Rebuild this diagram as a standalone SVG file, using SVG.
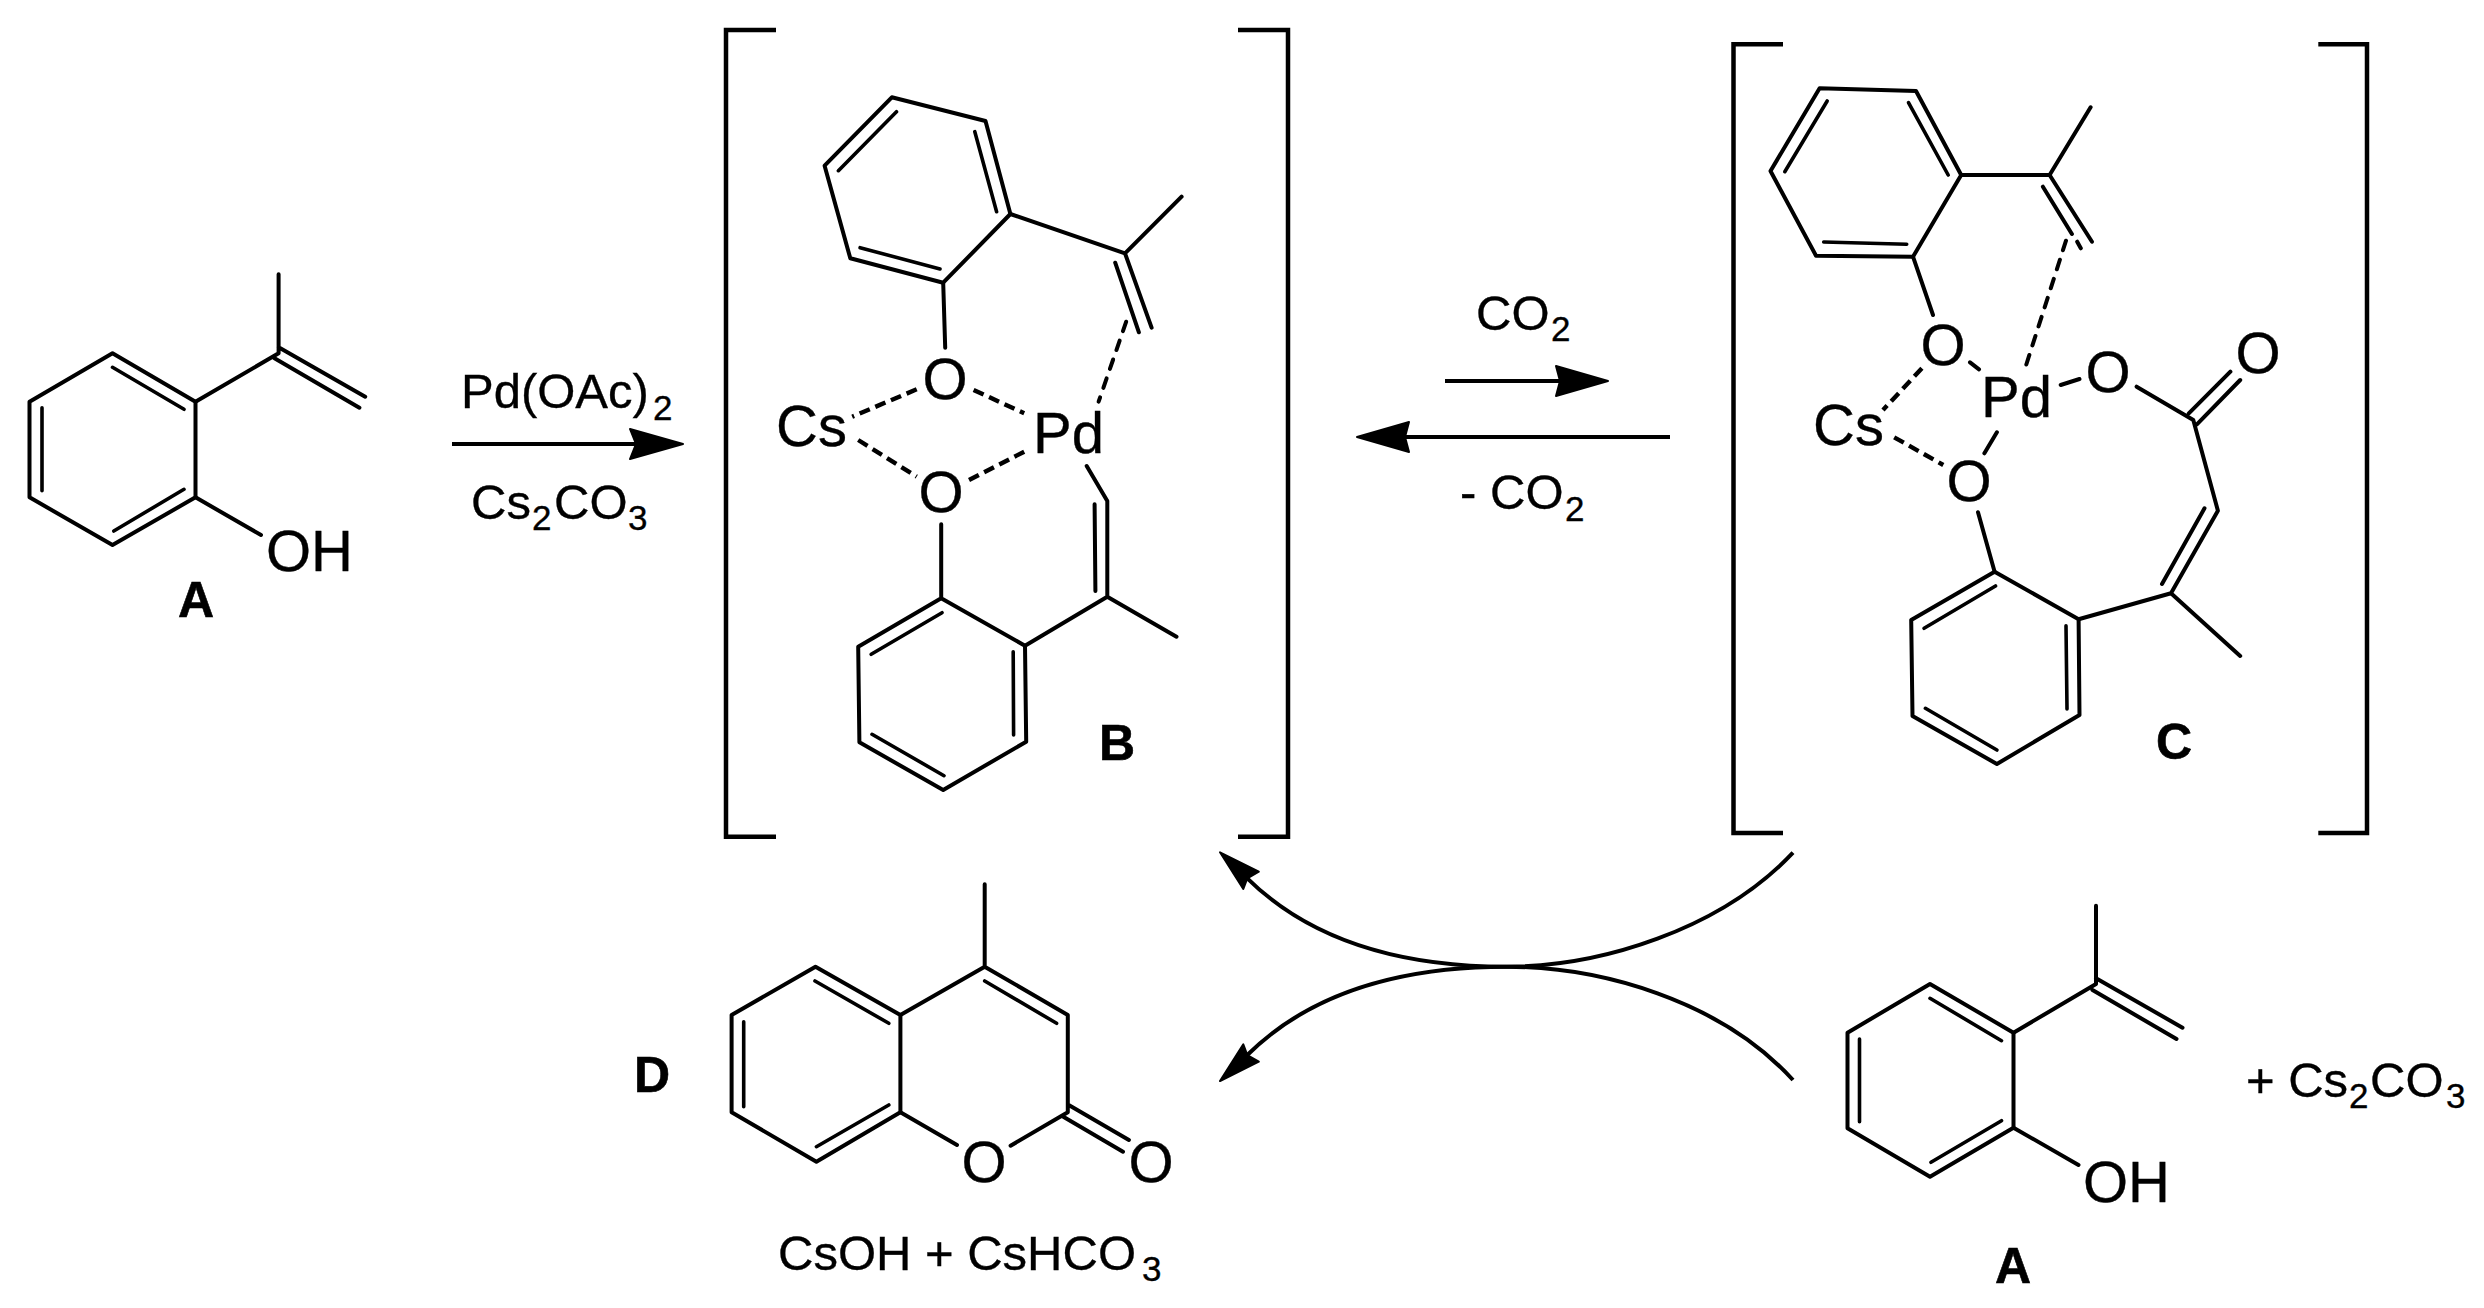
<svg xmlns="http://www.w3.org/2000/svg" width="2484" height="1308" viewBox="0 0 2484 1308">
<style>
text{font-family:"Liberation Sans",Arial,sans-serif;fill:#000;stroke:#000;stroke-width:.35px}
.atom{font-size:58px}
.anchor{text-anchor:middle}
.rg{font-size:49px}
.sub{font-size:35px}
.lab{font-size:50px;font-weight:bold;stroke-width:.6px}
.b{fill:none;stroke:#000;stroke-width:4px;stroke-linecap:round;stroke-linejoin:round}
.i{fill:none;stroke:#000;stroke-width:3.6px;stroke-linecap:round}
.d{fill:none;stroke:#000;stroke-width:4.4px;stroke-dasharray:11 6;stroke-linecap:butt}
.d2{fill:none;stroke:#000;stroke-width:4px;stroke-dasharray:10 10;stroke-linecap:round}
.br{fill:none;stroke:#000;stroke-width:4.5px;stroke-linejoin:miter}
.ar{fill:none;stroke:#000;stroke-width:4px}
.ah{fill:#000;stroke:#000;stroke-width:2px;stroke-linejoin:round}
</style>
<g id="node-A-left">
<path class="b" d="M112.5,353.3L195.5,401.7V497.3L112.5,545L29.5,497.3V401.7Z"/>
<path class="i" d="M112.5,367.3L184,409.3M42,407.7V490.7M113.8,531L184,489.3"/>
<path class="b" d="M195.5,401.7L278.6,353.3V274.3M278.6,347.3L365.2,396.7M274.5,358.3L359.4,407.7M195.5,497.3L261,535"/>
<text class="atom" x="266" y="571">OH</text>
<text class="lab anchor" x="196" y="617">A</text>
</g>
<g id="node-B">
<path class="br" d="M776,30H726V836.7H776M1238,30H1288V836.7H1238"/>
<path class="b" d="M891.8,97.3L985.5,121L1010.4,214L943.2,282.7L850.3,258.3L824.6,165.7Z"/>
<path class="i" d="M896.5,111.7L838.4,170.7M974.8,131.7L996.6,211.7M860.1,247.7L940,269"/>
<path class="b" d="M1010.4,214L1125,253.3L1181.6,196.7M1125,253.3L1151.6,327.7M1115.2,262.7L1138.9,332.3M943.2,282.7L945.2,347.7"/>
<path class="d" d="M916.7,389.3L852.2,416.7M973.6,390L1024.2,413.3M858.2,440L916.7,476.7M1024.2,451.7L968.9,480"/>
<path class="d2" d="M1126.2,321.7L1098.6,401.7"/>
<text class="atom anchor" x="945" y="399">O</text>
<text class="atom" x="776" y="446">Cs</text>
<text class="atom" x="1033" y="452.7">Pd</text>
<text class="atom anchor" x="941" y="512">O</text>
<path class="b" d="M941.2,524.3V598.3L1025,645.7L1026.2,741.7L943.2,790L859.4,742.3L858.2,646.7L941.2,598.3"/>
<path class="i" d="M942,612.7L871.2,654.3M1013.2,651.7L1013.6,735M872,734.3L944,775.7"/>
<path class="b" d="M1025,645.7L1107.3,596.7L1176.5,636.7M1107.3,596.7V501L1086.7,466M1095.4,591L1094.6,504.3"/>
<text class="lab" x="1099" y="760">B</text>
</g>
<g id="node-C">
<path class="br" d="M1783,44.3H1733.5V833H1783M2318.3,44.3H2367V833H2318.3"/>
<path class="b" d="M1819.6,88.3L1916,91L1961.2,175L1913,256.7L1816,255.7L1770.5,171Z"/>
<path class="i" d="M1827.2,101L1784.8,171.7M1908.5,102.7L1948.2,175M1823.7,242L1906.7,244.3"/>
<path class="b" d="M1961.2,175H2049.6L2090.6,107.3M2049.6,175L2092,241.7M2042.9,186.7L2071.9,234M2077.2,241.7L2080.8,248.3M1913,256.7L1933,315"/>
<path class="d2" d="M2066,240.7L2023.7,372.7"/>
<path class="d" d="M1921.9,368.3L1883,410M1894.2,437.3L1943.3,465"/>
<path class="b" d="M1970,362.3L1979,369.3M2060.7,385L2079.5,379M1996.9,432.3L1984.4,453.3"/>
<text class="atom anchor" x="1943" y="365">O</text>
<text class="atom" x="1813" y="445">Cs</text>
<text class="atom" x="1981" y="417.3">Pd</text>
<text class="atom anchor" x="2108" y="392">O</text>
<text class="atom anchor" x="2258" y="373">O</text>
<text class="atom anchor" x="1969" y="501">O</text>
<path class="b" d="M2136.6,386.7L2193.3,420L2217.9,510.7L2171,593.3L2240.2,656M2188.8,413.3L2230.4,371.7M2196.9,424.3L2240.2,380M2162,584L2204.5,508.3M2171,593.3L2078.6,619.3M1978,512.3L1994.6,571.7"/>
<path class="b" d="M1994.6,571.7L2078.6,619.3L2079.5,715L1996.9,764L1912.5,716L1911.2,620Z"/>
<path class="i" d="M1995.5,586L1924.1,628.3M2066,625.7L2067,709M1925.4,708.3L1996.9,750"/>
<text class="lab" x="2156" y="759">C</text>
</g>
<g id="node-D">
<path class="b" d="M815.5,966.7L900.4,1015V1112.3L816.4,1161.7L731.6,1112.3V1015Z"/>
<path class="i" d="M815,981L888.8,1023.3M743.7,1021.7V1106.7M816.4,1146.7L888.8,1105M984.7,981L1056.6,1023.3"/>
<path class="b" d="M900.4,1015L984.7,966.7V884.3M984.7,966.7L1067.8,1015V1112.3L1010.6,1145.7M900.4,1112.3L957,1145M1068.7,1105L1128.9,1140M1063.3,1116.7L1123,1151.7"/>
<text class="atom anchor" x="984" y="1182">O</text>
<text class="atom anchor" x="1151" y="1182">O</text>
<text class="lab" x="634" y="1092">D</text>
<text class="rg" x="778" y="1270">CsOH + CsHCO<tspan class="sub" x="1142" y="1281">3</tspan></text>
</g>
<g id="node-A-right">
<path class="b" d="M1930,984L2013.5,1032.7V1127.7L1930,1176.7L1847.5,1128.3V1032.7Z"/>
<path class="i" d="M1930,998.3L2001.5,1040.7M1859.5,1039V1121.7M1931,1162.3L2001.5,1120.7"/>
<path class="b" d="M2013.5,1032.7L2096,984V905.7M2096,978.3L2182.5,1027.7M2092.5,990L2176.5,1039M2013.5,1127.7L2078.5,1165"/>
<text class="atom" x="2083" y="1202">OH</text>
<text class="lab anchor" x="2013" y="1283">A</text>
<text class="rg" x="2246" y="1097">+ Cs<tspan class="sub" x="2349" y="1108">2</tspan><tspan x="2370" y="1097">CO</tspan><tspan class="sub" x="2446" y="1108">3</tspan></text>
</g>
<g id="reagents">
<text class="rg" x="461" y="408">Pd(OAc)<tspan class="sub" x="653" y="420">2</tspan></text>
<text class="rg" x="471" y="519">Cs<tspan class="sub" x="532" y="530">2</tspan><tspan x="554" y="519">CO</tspan><tspan class="sub" x="628" y="530">3</tspan></text>
<text class="rg" x="1476" y="330">CO<tspan class="sub" x="1551" y="341">2</tspan></text>
<text class="rg" x="1460" y="509">- <tspan x="1490">CO</tspan><tspan class="sub" x="1565" y="521">2</tspan></text>
</g>
<g id="connectors">
<path class="ar" d="M452,444H638"/>
<path class="ah" d="M683,444L630,429L636,444L630,459Z"/>
<path class="ar" d="M1445,381H1562"/>
<path class="ah" d="M1608,381L1556,366L1560,381L1556,396Z"/>
<path class="ar" d="M1670,437H1403"/>
<path class="ah" d="M1357,437L1409,422L1405,437L1409,452Z"/>
<path class="ar" d="M1793,852.7C1720,930 1600,966.7 1506.5,966.7C1420,966.7 1320,950 1247.3,878.3"/>
<path class="ah" d="M1220,852.3L1258.8,871.7L1247.3,878.3L1243.3,889Z"/>
<path class="ar" d="M1793,1080C1720,1000 1600,966.7 1506.5,966.7C1420,966.7 1320,983 1247.3,1055"/>
<path class="ah" d="M1220,1081L1243.3,1044.3L1247.3,1055L1258.8,1061.7Z"/>
</g>
</svg>
